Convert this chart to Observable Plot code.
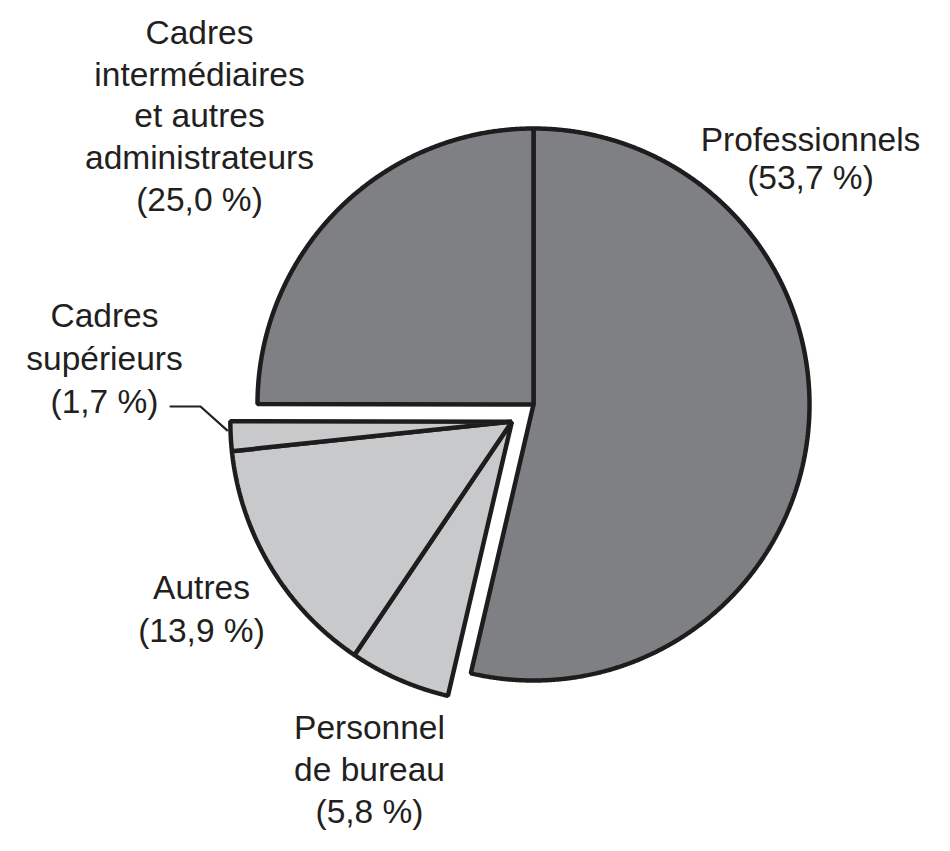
<!DOCTYPE html>
<html><head><meta charset="utf-8">
<script src="https://cdn.jsdelivr.net/npm/d3@7"></script>
<script src="https://cdn.jsdelivr.net/npm/@observablehq/plot@0.6"></script>
<style>html,body{margin:0;padding:0;background:#fff;} #chart svg{display:block}</style>
</head><body><div id="chart"></div>
<script>
// ---- data ----
const categories = ["Professionnels", "Personnel de bureau", "Autres", "Cadres supérieurs", "Cadres intermédiaires et autres administrateurs"];
const values = [53.7, 5.8, 13.9, 1.7, 25.0];
const valueLabels = ["53,7 %", "5,8 %", "13,9 %", "1,7 %", "25,0 %"];
const labelLines = [["Professionnels"], ["Personnel", "de bureau"], ["Autres"], ["Cadres", "supérieurs"], ["Cadres", "intermédiaires", "et autres", "administrateurs"]];
const exploded = [false, true, true, true, false];

// ---- layout / style ----
const W = 950, H = 851;
const CX = 533, CY = 404, R = 276;       // main pie centre and radius (px)
const explodeOffset = 0.1;               // in radius units
const explodeRadius = 1.02;              // exploded group drawn slightly larger
const FONT = "'Liberation Sans', Arial, Helvetica, sans-serif";
const FONT_SIZE = 33.5;
const TEXT = "#231f20";
const DARK = "#7f8084", LIGHT = "#c8c9cb";
// label anchor: centre x, last-line baseline y (px), line height (em)
const labelLayout = [
  {px: 810, py: 188, lh: 1.11},
  {px: 369, py: 822, lh: 1.24},
  {px: 201, py: 641, lh: 1.27},
  {px: 104, py: 412, lh: 1.27},
  {px: 199, py: 210, lh: 1.24}
];
const leaderStart = [{px: 170, py: 406}, {px: 200, py: 406}];

const toX = px => (px - CX) / R;
const toY = py => (CY - py) / R;

// ---- geometry derived from data ----
const total = d3.sum(values);
let cum = 0;
const slices = categories.map((c, i) => {
  const a0 = cum / total * 2 * Math.PI; cum += values[i];
  const a1 = cum / total * 2 * Math.PI;
  return {category: c, i, a0, a1, exploded: exploded[i]};
});
const ex = slices.filter(s => s.exploded);
const gMid = (ex[0].a0 + ex[ex.length - 1].a1) / 2;
const ox = explodeOffset * Math.sin(gMid), oy = explodeOffset * Math.cos(gMid);
const origin = s => s.exploded ? [ox, oy] : [0, 0];
const radius = s => s.exploded ? explodeRadius : 1;

function polygon(s) {
  const [cx0, cy0] = origin(s);
  const r = radius(s);
  const mid = (s.a0 + s.a1) / 2;
  const pts = [];
  const step = Math.PI / 720;
  const arc = (from, to) => {
    const n = Math.max(1, Math.ceil(Math.abs(to - from) / step));
    for (let k = 0; k <= n; k++) {
      const a = from + (to - from) * k / n;
      pts.push({x: cx0 + r * Math.sin(a), y: cy0 + r * Math.cos(a)});
    }
  };
  arc(mid, s.a1);
  pts.push({x: cx0, y: cy0});
  arc(s.a0, mid);
  return pts;
}

const sliceMarks = slices.map(s => Plot.line(polygon(s), {
  x: "x", y: "y",
  fill: s.exploded ? LIGHT : DARK,
  stroke: "#1f1c1d", strokeWidth: 4.5,
  strokeLinejoin: "miter", strokeLinecap: "round"
}));

const labels = slices.map((s, i) => ({
  x: toX(labelLayout[i].px), y: toY(labelLayout[i].py), lh: labelLayout[i].lh,
  text: [...labelLines[i], `(${valueLabels[i]})`].join("\n")
}));
const textMarks = labels.map(l => Plot.text([l], {
  x: "x", y: "y", text: "text", lineAnchor: "bottom", textAnchor: "middle",
  lineHeight: l.lh, fontSize: FONT_SIZE, fontFamily: FONT, fill: TEXT
}));

// leader for Cadres supérieurs
const cs = slices[3];
const csA = cs.a0 + 0.7 * (cs.a1 - cs.a0);
const [ccx, ccy] = origin(cs);
const rr = radius(cs) + 0.012;
const leader = [
  ...leaderStart.map(p => ({x: toX(p.px), y: toY(p.py)})),
  {x: ccx + rr * Math.sin(csA), y: ccy + rr * Math.cos(csA)}
];

const chart = Plot.plot({
  width: W, height: H,
  margin: 0,
  x: {domain: [-CX / R, (W - CX) / R], axis: null},
  y: {domain: [-(H - CY) / R, CY / R], axis: null},
  style: {background: "#fff", fontFamily: FONT},
  marks: [
    ...sliceMarks,
    Plot.line(leader, {x: "x", y: "y", stroke: TEXT, strokeWidth: 2.2, strokeLinejoin: "miter"}),
    ...textMarks
  ]
});
document.getElementById("chart").appendChild(chart);
</script>
</body></html>
